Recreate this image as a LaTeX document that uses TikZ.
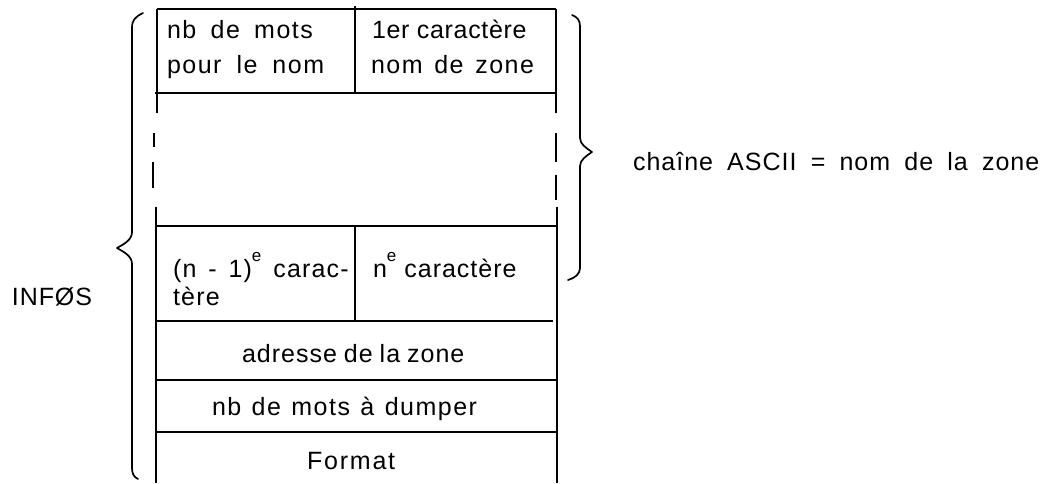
\documentclass[tikz,border=0pt]{standalone}
\usepackage{fontspec}
\setmainfont{Liberation Sans}
\newcommand{\txtf}[2]{\fontsize{25}{29}\selectfont\addfontfeatures{LetterSpace=#1}\spaceskip=#2pt\relax}
\newcommand{\supe}{\raisebox{16pt}{\fontsize{17}{19}\selectfont e}}
\begin{document}
\begin{tikzpicture}[x=1pt,y=-1pt,
  txt/.style={anchor=base west, inner sep=0pt, outer sep=0pt},
  rule/.style={line width=1.2pt, black},
  brace/.style={line width=1.7pt, black, line cap=round, line join=round}]
\useasboundingbox (0,0) rectangle (1046,483);
% horizontal rules
\coordinate (tl) at (157,9);  \coordinate (tr) at (556,9);
\draw[rule] (tl) -- (tr);
\coordinate (h2l) at (155,93); \coordinate (h2r) at (556,93);
\draw[rule] (h2l) -- (h2r);
\coordinate (h3l) at (155,226); \coordinate (h3r) at (556,226);
\draw[rule] (h3l) -- (h3r);
\coordinate (h4l) at (157,321); \coordinate (h4r) at (553,321);
\draw[rule] (h4l) -- (h4r);
\coordinate (h5l) at (157,380); \coordinate (h5r) at (557,380);
\draw[rule] (h5l) -- (h5r);
\coordinate (h6l) at (155,432); \coordinate (h6r) at (557,432);
\draw[rule] (h6l) -- (h6r);
% inner verticals
\coordinate (v1t) at (355,6); \coordinate (v1b) at (355,92);
\draw[rule] (v1t) -- (v1b);
\coordinate (v2t) at (355,226); \coordinate (v2b) at (355,320);
\draw[rule] (v2t) -- (v2b);
% left border
\coordinate (l1a) at (157,9);   \coordinate (l1b) at (157,113);
\coordinate (l2a) at (154,133); \coordinate (l2b) at (154,147);
\coordinate (l3a) at (153,162); \coordinate (l3b) at (153,188);
\coordinate (l4a) at (156,207); \coordinate (l4b) at (156,483);
\draw[rule] (l1a) -- (l1b);
\draw[rule] (l2a) -- (l2b);
\draw[rule] (l3a) -- (l3b);
\draw[rule] (l4a) -- (l4b);
% right border
\coordinate (r1a) at (556,9);   \coordinate (r1b) at (556,113);
\coordinate (r2a) at (556,133); \coordinate (r2b) at (556,162);
\coordinate (r3a) at (556,175); \coordinate (r3b) at (556,200);
\coordinate (r4a) at (557,207); \coordinate (r4b) at (557,483);
\draw[rule] (r1a) -- (r1b);
\draw[rule] (r2a) -- (r2b);
\draw[rule] (r3a) -- (r3b);
\draw[rule] (r4a) -- (r4b);
% left brace
\draw[brace] (143,13) .. controls (135,17) and (132,20) .. (132,28)
  -- (132,232) .. controls (132,240) and (124,244) .. (117,248)
  .. controls (124,252) and (132,256) .. (132,264)
  -- (132,468) .. controls (132,474) and (134,477) .. (138,479);
% right brace
\draw[brace] (572,15) .. controls (577,17) and (580,20) .. (580,26)
  -- (580,138) .. controls (580,144) and (586,148) .. (592,152)
  .. controls (586,156) and (580,160) .. (580,166)
  -- (580,268) .. controls (580,274) and (575,278) .. (568,280);
% texts
\node[txt, font=\txtf{6}{14.3}] (t1a) at (167,38) {nb de mots};
\node[txt, font=\txtf{6}{15}] (t1b) at (167,73) {pour le nom};
\node[txt, font=\txtf{2.8}{7.3}] (t2a) at (372,38) {1er caractère};
\node[txt, font=\txtf{6}{11.7}] (t2b) at (371,73) {nom de zone};
\node[txt, font=\txtf{4.8}{11.9}] (t3a) at (173,277) {(n - 1)\supe{} carac-};
\node[txt, font=\txtf{4.8}{10}] (t3b) at (173,305) {tère};
\node[txt, font=\txtf{4}{8}] (t4) at (373,277) {n\supe{} caractère};
\node[txt, font=\txtf{4}{7}] (t5) at (242,362) {adresse de la zone};
\node[txt, font=\txtf{6}{10.4}] (t6) at (212,415) {nb de mots à dumper};
\node[txt, font=\txtf{7.2}{8}] (t7) at (307,469) {Format};
\node[txt, font=\txtf{3.6}{8}] (infos) at (12,305) {INFØS};
\node[txt, font=\txtf{4}{14.2}] (chaine) at (633,170) {chaîne ASCII = nom de la zone};
\end{tikzpicture}
\end{document}
